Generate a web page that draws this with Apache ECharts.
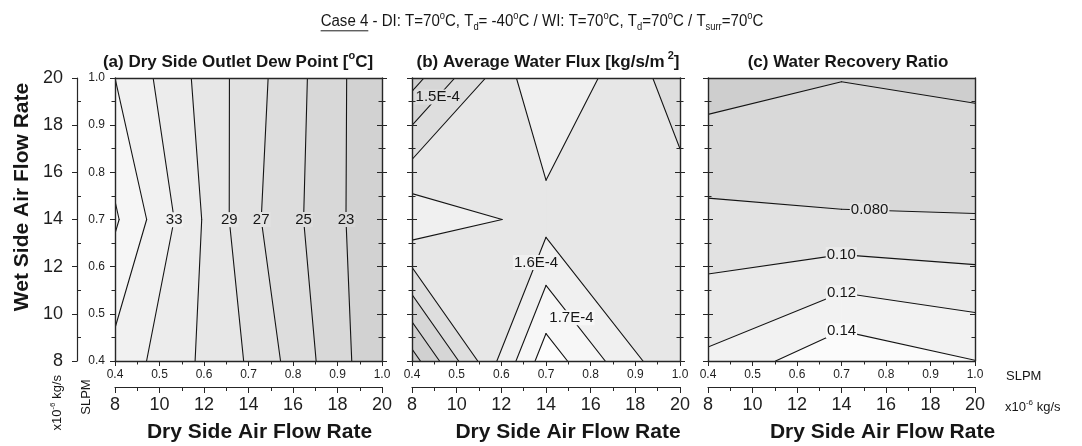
<!DOCTYPE html>
<html>
<head>
<meta charset="utf-8">
<script src="https://cdn.jsdelivr.net/npm/echarts@6/dist/echarts.min.js"></script>
<style>
  html, body { margin: 0; padding: 0; background: #ffffff; }
  #chart { width: 1082px; height: 446px; }
</style>
</head>
<body>
<div id="chart"></div>
<script>
// ---------------------------------------------------------------
// Measured grid: dry side flow (x) and wet side flow (y), in SLPM
// ---------------------------------------------------------------
const dryFlow = [0.4, 0.7, 1.0];
const wetFlow = [0.4, 0.7, 1.0];

// (a) Dry side outlet dew point [°C]; one row per wetFlow value, columns follow dryFlow
const dewPoint = [
  [34.3, 28.8, 21.3],
  [37.3, 27.6, 21.3],
  [35.0, 28.0, 21.2]
];
const dewLevels = [23, 25, 27, 29, 31, 33, 35, 37];
const dewLabelLevels = [33, 29, 27, 25, 23];

// (b) Average water flux [kg/s/m2]
const waterFlux = [
  [1.398e-4, 1.7485e-4, 1.571e-4],
  [1.658e-4, 1.6015e-4, 1.595e-4],
  [1.4505e-4, 1.668e-4, 1.545e-4]
];
const fluxLevels = [1.42e-4, 1.47e-4, 1.52e-4, 1.57e-4, 1.62e-4, 1.67e-4, 1.72e-4];
const fluxLabelLevels = [1.52e-4, 1.62e-4, 1.67e-4];

// (c) Water recovery ratio
const recoveryRatio = [
  [0.1238, 0.1558, 0.1403],
  [0.0851, 0.0816, 0.0811],
  [0.0513, 0.0594, 0.0554]
];
const ratioLevels = [0.06, 0.08, 0.10, 0.12, 0.14];
const ratioLabelLevels = [0.08, 0.10, 0.12, 0.14];

// Axis ticks
const slpmTicks = { min: 0.4, max: 1.0, step: 0.1 };
const massTicks = { min: 8, max: 20, step: 2 };

// ---------------------------------------------------------------
// Layout and styles
// ---------------------------------------------------------------
const FONT = 'Liberation Sans';
const INK = '#262626';
const PLOT_TOP = 78, PLOT_H = 283;
const panelBoxes = [
  { left: 115, width: 267 },
  { left: 412, width: 268 },
  { left: 708, width: 267 }
];
// grey fill for each band, from lowest to highest value
const dewShades = ['#d2d2d2', '#d8d8d8', '#dddddd', '#e2e2e2', '#e7e7e7', '#ececec', '#f1f1f1', '#f6f6f6', '#fbfbfb'];
const fluxShades = ['#cacaca', '#d0d0d0', '#d6d6d6', '#dedede', '#e7e7e7', '#f0f0f0', '#f7f7f7', '#fdfdfd'];
const ratioShades = ['#cecece', '#d9d9d9', '#e2e2e2', '#eaeaea', '#f2f2f2', '#fbfbfb'];
// where along each line its value is printed (data coordinates)
const labelSpots = [
  [[0.53, 0.7], [0.66, 0.7], [0.72, 0.7], [0.82, 0.7], [0.91, 0.7]],
  [[0.455, 0.962], [0.68, 0.608], [0.755, 0.49]],
  [[0.763, 0.716], [0.70, 0.623], [0.70, 0.545], [0.70, 0.464]]
];

const panels = [
  { field: dewPoint, levels: dewLevels, shades: dewShades, labelLevels: dewLabelLevels,
    fmt: v => String(v) },
  { field: waterFlux, levels: fluxLevels, shades: fluxShades, labelLevels: fluxLabelLevels,
    fmt: v => (v * 1e4).toFixed(1) + 'E-4' },
  { field: recoveryRatio, levels: ratioLevels, shades: ratioShades, labelLevels: ratioLabelLevels,
    fmt: v => v.toPrecision(2) }
];

// ---------------------------------------------------------------
// Contouring on the rectangular grid (marching squares, linear edges)
// ---------------------------------------------------------------
function cellContour(field, i, j, L) {
  const p = [[dryFlow[i], wetFlow[j]], [dryFlow[i + 1], wetFlow[j]],
             [dryFlow[i + 1], wetFlow[j + 1]], [dryFlow[i], wetFlow[j + 1]]];
  const v = [field[j][i], field[j][i + 1], field[j + 1][i + 1], field[j + 1][i]];
  const up = v.map(a => a >= L);
  const cross = k => {
    const k2 = (k + 1) % 4;
    const t = (L - v[k]) / (v[k2] - v[k]);
    return [p[k][0] + t * (p[k2][0] - p[k][0]), p[k][1] + t * (p[k2][1] - p[k][1])];
  };
  const n = up.filter(Boolean).length;
  const polys = [], segs = [];
  if (n === 0) return { polys, segs };
  if (n === 4) { polys.push(p); return { polys, segs }; }
  const saddle = n === 2 && up[0] === up[2];
  const centre = (v[0] + v[1] + v[2] + v[3]) / 4;
  if (saddle && centre < L) {
    for (let k = 0; k < 4; k++) {
      if (!up[k]) continue;
      const a = cross((k + 3) % 4), b = cross(k);
      polys.push([a, p[k], b]);
      segs.push([a, b]);
    }
    return { polys, segs };
  }
  const poly = [], pts = [];
  for (let k = 0; k < 4; k++) {
    if (up[k]) poly.push(p[k]);
    if (up[k] !== up[(k + 1) % 4]) { const c = cross(k); poly.push(c); pts.push(c); }
  }
  polys.push(poly);
  if (saddle) {
    for (let k = 0; k < 4; k++) if (!up[k]) segs.push([cross((k + 3) % 4), cross(k)]);
  } else if (pts.length === 2) {
    segs.push([pts[0], pts[1]]);
  }
  return { polys, segs };
}

function eachCell(fn) {
  for (let j = 0; j < wetFlow.length - 1; j++)
    for (let i = 0; i < dryFlow.length - 1; i++) fn(i, j);
}
function allContour(field, L) {
  const polys = [], segs = [];
  eachCell((i, j) => {
    const r = cellContour(field, i, j, L);
    polys.push(...r.polys);
    segs.push(...r.segs);
  });
  return { polys, segs };
}

// ---------------------------------------------------------------
// Text runs with super/subscripts
// ---------------------------------------------------------------
const measureCtx = document.createElement('canvas').getContext('2d');
function textWidth(t, size, bold) {
  measureCtx.font = (bold ? 'bold ' : 'normal ') + size + 'px ' + FONT;
  return measureCtx.measureText(t).width;
}
function runText(o) {
  let cx = 0;
  const kids = [];
  o.parts.forEach(part => {
    const kind = part.k || 'n';
    const sz = kind === 'n' ? o.size : Math.round(o.size * 0.64);
    const dy = kind === 'sup' ? -o.size * 0.36 : kind === 'sub' ? o.size * 0.34 : 0;
    const w = textWidth(part.t, sz, o.bold);
    kids.push({ type: 'text', x: cx, y: dy, style: {
      text: part.t, fontSize: sz, fontWeight: o.bold ? 'bold' : 'normal', fontFamily: FONT,
      fill: '#161616', align: 'left', verticalAlign: 'middle' } });
    if (part.u) kids.push({ type: 'line', shape: { x1: cx, y1: o.size * 0.55, x2: cx + w, y2: o.size * 0.55 },
      style: { stroke: '#161616', lineWidth: 1 } });
    cx += w + (part.gap || 0);
  });
  const shift = o.align === 'center' ? -cx / 2 : o.align === 'right' ? -cx : 0;
  kids.forEach(k => {
    if (k.type === 'text') k.x += shift; else { k.shape.x1 += shift; k.shape.x2 += shift; }
  });
  return { type: 'group', x: o.x, y: o.y, rotation: o.rotation || 0, scaleX: o.scaleX || 1,
           silent: true, children: kids };
}

// ---------------------------------------------------------------
// Axes
// ---------------------------------------------------------------
const lineStyle = { color: INK, width: 1 };
const frameStyle = { color: INK, width: 1.4 };
const xAxes = [], yAxes = [], series = [];

function hiddenAxis(extra) {
  return Object.assign({
    type: 'value', z: 10, splitLine: { show: false },
    axisLine: { show: false }, axisTick: { show: false }, minorTick: { show: false },
    axisLabel: { show: false }
  }, extra);
}
function slpmAxis(extra) {
  return hiddenAxis(Object.assign({ min: slpmTicks.min, max: slpmTicks.max, interval: slpmTicks.step }, extra));
}
function ticks(inside, len, minorLen) {
  return {
    axisTick: { show: true, inside: inside, length: len, lineStyle: lineStyle },
    minorTick: { show: true, splitNumber: 2, length: minorLen, lineStyle: lineStyle }
  };
}

panelBoxes.forEach((box, p) => {
  // bottom SLPM axis
  const xMain = xAxes.length;
  xAxes.push(slpmAxis(Object.assign({
    gridIndex: p, position: 'bottom',
    axisLine: { show: true, onZero: false, lineStyle: frameStyle },
    axisLabel: { show: true, fontSize: 12, fontFamily: FONT, color: '#1e1e1e', margin: 8,
                 showMinLabel: true, showMaxLabel: true, formatter: v => v.toFixed(1) }
  }, ticks(false, 5, 3.5))));
  // top frame
  xAxes.push(slpmAxis({ gridIndex: p, position: 'top',
    axisLine: { show: true, onZero: false, lineStyle: frameStyle } }));
  // mass flow axis below
  xAxes.push(hiddenAxis(Object.assign({
    gridIndex: p, position: 'bottom', offset: 26,
    min: massTicks.min, max: massTicks.max, interval: massTicks.step,
    axisLine: { show: true, onZero: false, lineStyle: { color: INK, width: 1.2 } },
    axisLabel: { show: true, fontSize: 18, fontFamily: FONT, color: '#1e1e1e', margin: 9,
                 showMinLabel: true, showMaxLabel: true }
  }, ticks(false, 6, 4))));

  // left SLPM axis
  const yMain = yAxes.length;
  yAxes.push(slpmAxis(Object.assign({
    gridIndex: p, position: 'left',
    axisLine: { show: true, onZero: false, lineStyle: frameStyle },
    axisLabel: p === 0 ? { show: true, fontSize: 12, fontFamily: FONT, color: '#1e1e1e', margin: 10,
                           showMinLabel: true, showMaxLabel: true, formatter: v => v.toFixed(1) }
                       : { show: false }
  }, ticks(false, 5, 3.5))));
  if (p > 0) yAxes.push(slpmAxis(Object.assign({ gridIndex: p, position: 'left' }, ticks(true, 5, 3.5))));
  // right SLPM axis
  yAxes.push(slpmAxis(Object.assign({
    gridIndex: p, position: 'right',
    axisLine: { show: true, onZero: false, lineStyle: frameStyle }
  }, ticks(true, 5, 3.5))));
  if (p < 2) yAxes.push(slpmAxis(Object.assign({ gridIndex: p, position: 'right' }, ticks(false, 5, 3.5))));
  if (p === 0) {
    yAxes.push(hiddenAxis({
      gridIndex: 0, position: 'left', offset: 38,
      min: massTicks.min, max: massTicks.max, interval: massTicks.step,
      axisLine: { show: true, onZero: false, lineStyle: { color: INK, width: 1.2 } },
      axisTick: { show: true, inside: false, length: 5, lineStyle: lineStyle },
      axisLabel: { show: true, fontSize: 18, fontFamily: FONT, color: '#1e1e1e', margin: 14,
                   showMinLabel: true, showMaxLabel: true }
    }));
    yAxes.push(hiddenAxis({
      gridIndex: 0, position: 'left', offset: 38,
      min: massTicks.min, max: massTicks.max, interval: massTicks.step,
      axisTick: { show: true, inside: true, length: 4, lineStyle: lineStyle,
                  customValues: [9, 11, 13, 15, 17, 19] }
    }));
  }

  // ---- contour series for this panel ----
  const P = panels[p];
  const common = { type: 'custom', coordinateSystem: 'cartesian2d', xAxisIndex: xMain, yAxisIndex: yMain,
                   clip: true, silent: true, animation: false, encode: { x: 0, y: 1 } };
  const xMid = (dryFlow[0] + dryFlow[dryFlow.length - 1]) / 2;
  const yMid = (wetFlow[0] + wetFlow[wetFlow.length - 1]) / 2;

  // filled bands: band 0 covers the whole map, band k is the area above level k-1
  series.push(Object.assign({}, common, {
    z: 2,
    data: P.shades.map((c, k) => [xMid, yMid, k]),
    renderItem: (params, api) => {
      const k = api.value(2);
      const c = P.shades[k];
      const polys = k === 0
        ? [[[dryFlow[0], wetFlow[0]], [dryFlow[dryFlow.length - 1], wetFlow[0]],
            [dryFlow[dryFlow.length - 1], wetFlow[wetFlow.length - 1]], [dryFlow[0], wetFlow[wetFlow.length - 1]]]]
        : allContour(P.field, P.levels[k - 1]).polys;
      return { type: 'group', children: polys.map(poly => ({
        type: 'polygon', shape: { points: poly.map(q => api.coord(q)) },
        style: { fill: c, stroke: c, lineWidth: 0.8 } })) };
    }
  }));

  // contour lines
  series.push(Object.assign({}, common, {
    z: 3,
    data: P.levels.map((L, k) => [xMid, yMid, k]),
    renderItem: (params, api) => {
      const L = P.levels[api.value(2)];
      return { type: 'group', children: allContour(P.field, L).segs.map(s => ({
        type: 'polyline', shape: { points: s.map(q => api.coord(q)) },
        style: { stroke: '#141414', lineWidth: 1.1, fill: null, lineCap: 'round' } })) };
    }
  }));

  // line values, printed on the line nearest to each spot
  series.push(Object.assign({}, common, {
    z: 4, clip: false,
    data: P.labelLevels.map((L, n) => [labelSpots[p][n][0], labelSpots[p][n][1], n]),
    renderItem: (params, api) => {
      const n = api.value(2);
      const L = P.labelLevels[n];
      const hint = api.coord(labelSpots[p][n]);
      let best = null, bd = Infinity;
      allContour(P.field, L).segs.forEach(s => {
        const a = api.coord(s[0]), b = api.coord(s[1]);
        const dx = b[0] - a[0], dy = b[1] - a[1];
        let t = ((hint[0] - a[0]) * dx + (hint[1] - a[1]) * dy) / (dx * dx + dy * dy || 1);
        t = Math.max(0, Math.min(1, t));
        const q = [a[0] + t * dx, a[1] + t * dy];
        const d = (q[0] - hint[0]) ** 2 + (q[1] - hint[1]) ** 2;
        if (d < bd) { bd = d; best = q; }
      });
      if (!best) return null;
      const band = P.levels.indexOf(L) + 1;
      return { type: 'text', x: best[0], y: best[1], style: {
        text: P.fmt(L), fontSize: 15, fontFamily: FONT, fill: '#161616',
        align: 'center', verticalAlign: 'middle',
        backgroundColor: P.shades[band], padding: [0, 1] } };
    }
  }));
});

// ---------------------------------------------------------------
// Titles and axis names
// ---------------------------------------------------------------
const deg = { t: 'o', k: 'sup' };
const graphics = [
  runText({ x: 542, y: 22, size: 16, align: 'center', scaleX: 0.94, parts: [
    { t: 'Case 4', u: true }, { t: ' - DI: T=70' }, deg, { t: 'C, T' }, { t: 'd', k: 'sub' },
    { t: '= -40' }, deg, { t: 'C / WI: T=70' }, deg, { t: 'C, T' }, { t: 'd', k: 'sub' },
    { t: '=70' }, deg, { t: 'C / T' }, { t: 'surr', k: 'sub' }, { t: '=70' }, deg, { t: 'C' }
  ] }),
  runText({ x: 238, y: 62, size: 17, bold: true, align: 'center', parts: [
    { t: '(a) Dry Side Outlet Dew Point [' }, { t: 'o', k: 'sup' }, { t: 'C]' }
  ] }),
  runText({ x: 548, y: 62, size: 17, bold: true, align: 'center', parts: [
    { t: '(b) Average Water Flux [kg/s/m', gap: 3 }, { t: '2', k: 'sup' }, { t: ']' }
  ] }),
  runText({ x: 848, y: 62, size: 17, bold: true, align: 'center', parts: [
    { t: '(c) Water Recovery Ratio' }
  ] }),
  runText({ x: 22, y: 197, size: 21, bold: true, align: 'center', rotation: Math.PI / 2, parts: [
    { t: 'Wet Side Air Flow Rate' }
  ] }),
  runText({ x: 86, y: 397, size: 13, align: 'center', rotation: Math.PI / 2, parts: [{ t: 'SLPM' }] }),
  runText({ x: 57, y: 375, size: 13, align: 'right', rotation: Math.PI / 2, parts: [
    { t: 'x10' }, { t: '-6', k: 'sup' }, { t: ' kg/s' }
  ] }),
  runText({ x: 1006, y: 376, size: 13, align: 'left', parts: [{ t: 'SLPM' }] }),
  runText({ x: 1005, y: 407, size: 13, align: 'left', parts: [
    { t: 'x10' }, { t: '-6', k: 'sup' }, { t: ' kg/s' }
  ] })
];
[259.5, 568, 882.5].forEach(cx => graphics.push(
  runText({ x: cx, y: 432, size: 21, bold: true, align: 'center', parts: [{ t: 'Dry Side Air Flow Rate' }] })
));

const chart = echarts.init(document.getElementById('chart'), null, { renderer: 'canvas' });
chart.setOption({
  animation: false,
  backgroundColor: '#ffffff',
  grid: panelBoxes.map(b => ({ left: b.left, top: PLOT_TOP, width: b.width, height: PLOT_H,
                               show: false, containLabel: false })),
  xAxis: xAxes,
  yAxis: yAxes,
  series: series,
  graphic: { elements: graphics }
});
</script>
</body>
</html>
